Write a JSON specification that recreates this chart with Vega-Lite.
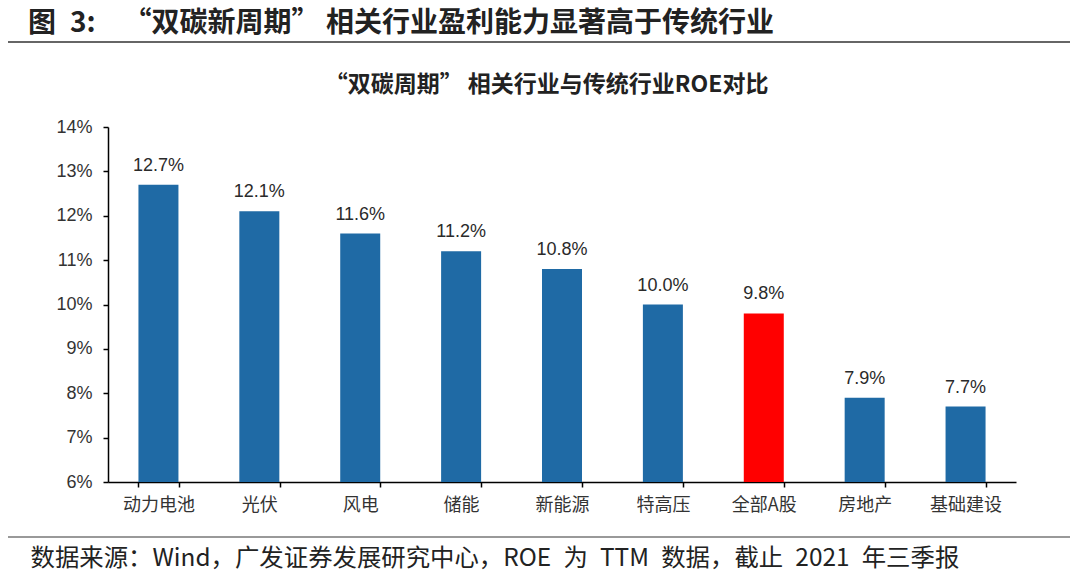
{
  "$schema": "https://vega.github.io/schema/vega-lite/v6.json",
  "autosize": {"type": "none"},
  "width": 908,
  "height": 355,
  "padding": {"left": 108, "top": 127, "right": 64, "bottom": 97},
  "background": "#ffffff",
  "config": {"view": {"stroke": null}},
  "title": {
    "text": "图\u20023:\u2002\u2002“双碳新周期” 相关行业盈利能力显著高于传统行业",
    "anchor": "start",
    "frame": "group",
    "dx": -80,
    "offset": 3,
    "font": "Noto Sans CJK SC",
    "fontSize": 28,
    "fontWeight": "bold",
    "color": "#222222"
  },
  "data": {
    "values": [
      {"name": "动力电池", "roe": 0.127},
      {"name": "光伏", "roe": 0.121},
      {"name": "风电", "roe": 0.116},
      {"name": "储能", "roe": 0.112},
      {"name": "新能源", "roe": 0.108},
      {"name": "特高压", "roe": 0.100},
      {"name": "全部A股", "roe": 0.098},
      {"name": "房地产", "roe": 0.079},
      {"name": "基础建设", "roe": 0.077}
    ]
  },
  "layer": [
    {
      "mark": {"type": "bar", "width": 40},
      "encoding": {
        "x": {
          "field": "name",
          "type": "nominal",
          "sort": null,
          "scale": {"paddingInner": 0.6, "paddingOuter": 0.3},
          "axis": {
            "labelAngle": 0,
            "labelFont": "Noto Sans CJK SC",
            "labelFontSize": 18,
            "labelColor": "#333333",
            "labelPadding": 9,
            "tickBand": "extent",
            "tickSize": 5,
            "tickColor": "#000000",
            "tickWidth": 1.5,
            "domainColor": "#000000",
            "domainWidth": 1.5,
            "title": "数据来源：Wind，广发证券发展研究中心，ROE\u2002为\u2002TTM\u2002数据，截止\u20022021\u2002年三季报",
            "titleFont": "Noto Sans CJK SC",
            "titleFontSize": 24.4,
            "titleFontWeight": "normal",
            "titleColor": "#222222",
            "titleAlign": "left",
            "titleAnchor": "start",
            "titleBaseline": "middle",
            "titleX": -78,
            "titleY": 76
          }
        },
        "y": {
          "field": "roe",
          "type": "quantitative",
          "scale": {"domain": [0.06, 0.14], "zero": false, "nice": false},
          "axis": {
            "values": [0.06, 0.07, 0.08, 0.09, 0.10, 0.11, 0.12, 0.13, 0.14],
            "format": ".0%",
            "grid": false,
            "labelFont": "Liberation Sans",
            "labelFontSize": 18,
            "labelColor": "#333333",
            "labelPadding": 11,
            "tickSize": 5,
            "tickColor": "#000000",
            "tickWidth": 1.5,
            "domainColor": "#000000",
            "domainWidth": 1.5,
            "title": "“双碳周期” 相关行业与传统行业ROE对比",
            "titleFont": "Noto Sans CJK SC",
            "titleFontSize": 23,
            "titleFontWeight": "bold",
            "titleColor": "#222222",
            "titleAngle": 0,
            "titleAlign": "center",
            "titleBaseline": "middle",
            "titleX": 438,
            "titleY": -43
          }
        },
        "y2": {"datum": 0.06},
        "color": {
          "condition": {"test": "datum.name === '全部A股'", "value": "#FF0000"},
          "value": "#1F6AA5"
        }
      }
    },
    {
      "mark": {
        "type": "text",
        "baseline": "alphabetic",
        "dy": -14,
        "font": "Liberation Sans",
        "fontSize": 18,
        "color": "#2a2a2a"
      },
      "encoding": {
        "x": {"field": "name", "type": "nominal", "sort": null},
        "y": {"field": "roe", "type": "quantitative"},
        "text": {"field": "roe", "type": "quantitative", "format": ".1%"}
      }
    },
    {
      "data": {"values": [{"line": "header"}]},
      "mark": {"type": "rule", "color": "#666666", "strokeWidth": 2},
      "encoding": {
        "x": {"value": -100},
        "x2": {"value": 962},
        "y": {"value": -85}
      }
    },
    {
      "data": {"values": [{"line": "footer"}]},
      "mark": {"type": "rule", "color": "#777777", "strokeWidth": 1.5},
      "encoding": {
        "x": {"value": -100},
        "x2": {"value": 962},
        "y": {"value": 410}
      }
    }
  ]
}
